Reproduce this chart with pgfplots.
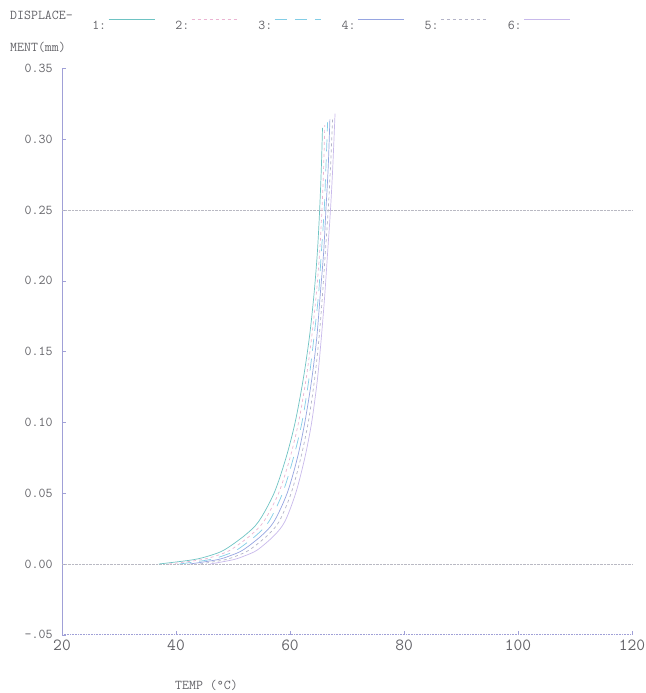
\documentclass[border=0pt]{standalone}
\usepackage{pgfplots}
\pgfplotsset{compat=1.18}
\definecolor{txt}{RGB}{100,100,105}
\definecolor{axl}{RGB}{160,160,215}
\definecolor{grd}{RGB}{185,185,195}
\definecolor{c1}{RGB}{110,195,195}
\definecolor{c2}{RGB}{235,180,210}
\definecolor{c3}{RGB}{130,205,230}
\definecolor{c4}{RGB}{150,165,225}
\definecolor{c5}{RGB}{180,180,200}
\definecolor{c6}{RGB}{200,185,235}
\begin{document}
\begin{tikzpicture}
\useasboundingbox (0pt,0pt) rectangle (645pt,693pt);
\begin{axis}[
    at={(62pt,58.2pt)}, anchor=south west,
    scale only axis, width=570pt, height=566.4pt,
    xmin=20, xmax=120, ymin=-0.05, ymax=0.35,
    axis lines*=left,
    x axis line style={densely dotted, color=axl, line width=0.6pt},
    y axis line style={color=axl, line width=0.6pt},
    tick align=inside, major tick length=4pt,
    every tick/.style={color=axl, line width=0.5pt},
    xtick={20,40,60,80,100,120},
    xticklabels={20,40,60,80,100,120},
    ytick={-0.05,0,0.05,0.10,0.15,0.20,0.25,0.30,0.35},
    yticklabels={-.05,0.00,0.05,0.10,0.15,0.20,0.25,0.30,0.35},
    xticklabel style={font=\fontsize{17}{19}\ttfamily, text=txt, yshift=-2pt},
    yticklabel style={font=\fontsize{13.5}{15}\ttfamily, text=txt, xshift=-6pt},
    extra y ticks={0,0.25},
    extra y tick labels={},
    extra y tick style={grid=major, major tick length=0pt,
        major grid style={densely dotted, color=grd, line width=0.6pt}},
    legend columns=6,
    legend plot pos=right,
    legend image code/.code={\draw[#1] (0pt,7pt) -- (46pt,7pt);},
    legend style={at={(0.044,1.075)}, anchor=west, draw=none, fill=none,
        font=\fontsize{13.5}{15}\ttfamily, text=txt,
        /tikz/every even column/.append style={column sep=18.5pt}},
    every axis plot/.append style={line width=0.7pt, smooth},
]
\addplot[c1] coordinates {(37,0) (43,0.003) (46,0.006) (48.5,0.01) (52,0.02) (54.5,0.03) (57.2,0.05) (59.3,0.075) (60.9,0.10) (62.3,0.13) (63.4,0.16) (64.2,0.19) (64.8,0.22) (65.2,0.25) (65.5,0.28) (65.7,0.308)};
\addlegendentry{1:}
\addplot[c2, dashed] coordinates {(38.8,0) (44.4,0.003) (47.2,0.006) (49.6,0.01) (53.0,0.02) (55.4,0.03) (58.0,0.05) (60.0,0.075) (61.5,0.10) (62.8,0.13) (63.8,0.16) (64.6,0.19) (65.2,0.22) (65.6,0.25) (65.9,0.28) (66.1,0.310)};
\addlegendentry{2:}
\addplot[c3, dash pattern=on 12pt off 8pt] coordinates {(40.6,0) (45.8,0.003) (48.4,0.006) (50.7,0.01) (54.0,0.02) (56.3,0.03) (58.7,0.05) (60.6,0.075) (62.1,0.10) (63.3,0.13) (64.2,0.16) (65.0,0.19) (65.5,0.22) (66.0,0.25) (66.3,0.28) (66.6,0.312)};
\addlegendentry{3:}
\addplot[c4] coordinates {(42.4,0) (47.2,0.003) (49.6,0.006) (51.8,0.01) (55.0,0.02) (57.2,0.03) (59.5,0.05) (61.3,0.075) (62.6,0.10) (63.8,0.13) (64.7,0.16) (65.3,0.19) (65.9,0.22) (66.3,0.25) (66.7,0.28) (67.0,0.314)};
\addlegendentry{4:}
\addplot[c5, dashed] coordinates {(44.2,0) (48.6,0.003) (50.8,0.006) (52.9,0.01) (56.0,0.02) (58.1,0.03) (60.2,0.05) (61.9,0.075) (63.2,0.10) (64.3,0.13) (65.1,0.16) (65.7,0.19) (66.2,0.22) (66.7,0.25) (67.1,0.28) (67.5,0.316)};
\addlegendentry{5:}
\addplot[c6] coordinates {(46,0) (50,0.003) (52.2,0.006) (54.3,0.01) (57.2,0.02) (59.1,0.03) (61,0.05) (62.6,0.075) (63.8,0.10) (64.8,0.13) (65.5,0.16) (66.1,0.19) (66.6,0.22) (67.1,0.25) (67.5,0.28) (67.9,0.318)};
\addlegendentry{6:}
\end{axis}
\node[anchor=west, font=\fontsize{13.5}{15}\ttfamily, text=txt, inner sep=0pt] at (10pt,678pt) {DISPLACE-};
\node[anchor=west, font=\fontsize{13.5}{15}\ttfamily, text=txt, inner sep=0pt] at (10pt,646pt) {MENT(mm)};
\node[anchor=west, font=\fontsize{13.5}{15}\ttfamily, text=txt, inner sep=0pt] at (175pt,8pt) {TEMP (°C)};
\end{tikzpicture}
\end{document}
